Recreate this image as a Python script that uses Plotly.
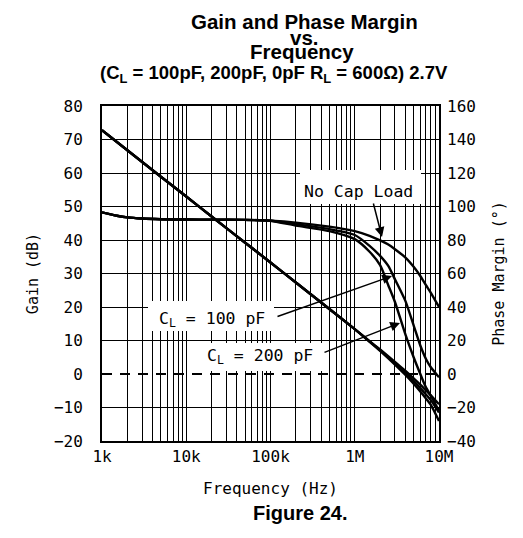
import numpy as np
import plotly.graph_objects as go

# ---------------- data ----------------
gain_freq = [1e3, 2e3, 5e3, 1e4, 2e4, 5e4, 1e5, 2e5, 5e5, 1e6, 1.5e6, 2e6, 3e6, 4e6, 5e6, 6e6, 7e6, 8e6, 1e7]
gain_nocap = [72.8, 66.8, 58.9, 53.0, 47.0, 39.2, 33.3, 27.3, 19.4, 13.4, 9.8, 7.3, 3.6, 0.9, -1.3, -3.2, -4.9, -6.4, -9.0]
gain_100pf = [72.8, 66.8, 58.9, 53.0, 47.0, 39.2, 33.3, 27.3, 19.4, 13.4, 9.7, 7.1, 3.2, 0.3, -2.1, -4.2, -6.1, -7.8, -11.5]
gain_200pf = [72.8, 66.8, 58.9, 53.0, 47.0, 39.2, 33.3, 27.3, 19.4, 13.4, 9.6, 6.9, 2.8, -0.3, -2.9, -5.2, -7.3, -9.2, -14.0]

phase_freq = [1e3, 1.5e3, 2e3, 3e3, 5e3, 1e4, 2e4, 5e4, 1e5, 2e5, 5e5, 1e6, 1.5e6, 2e6, 2.5e6, 3e6, 4e6, 5e6, 6e6, 7e6, 8e6, 1e7]
phase_nocap = [96.5, 94.5, 93.5, 92.8, 92.4, 92.2, 92.1, 92.0, 91.5, 90.4, 88.0, 85.3, 82.5, 79.8, 77.3, 74.5, 69.5, 64.0, 58.5, 53.0, 48.5, 40.0]
phase_100pf = [96.5, 94.5, 93.5, 92.8, 92.4, 92.2, 92.1, 92.0, 91.5, 89.5, 86.5, 83.0, 76.5, 70.5, 64.5, 56.5, 43.5, 29.0, 17.0, 9.0, 4.0, -2.0]
phase_200pf = [96.5, 94.5, 93.5, 92.8, 92.4, 92.2, 92.1, 92.0, 91.5, 88.6, 85.3, 80.5, 73.0, 65.0, 53.0, 43.0, 23.5, 10.0, 0.0, -8.0, -13.0, -22.0]

decades = [1e3, 1e4, 1e5, 1e6, 1e7]
decade_labels = ["1k", "10k", "100k", "1M", "10M"]
gain_ticks = [-20, -10, 0, 10, 20, 30, 40, 50, 60, 70, 80]
gain_grid = [-10, 10, 20, 30, 40, 50, 60, 70]   # 0 dB is drawn dashed instead

title_lines = ["Gain and Phase Margin", "vs.", "Frequency",
               "(C<sub>L</sub> = 100pF, 200pF, 0pF R<sub>L</sub> = 600Ω) 2.7V"]

# grid positions 1..9 per decade
grid_vals = []
grid_text = []
for d, lab in zip(decades, decade_labels):
    if d == 1e7:
        grid_vals.append(d); grid_text.append(lab)
        continue
    for m in range(1, 10):
        grid_vals.append(d * m)
        grid_text.append(lab if m == 1 else "")

MONO = "DejaVu Sans Mono"
ARIALB = "Liberation Sans"

fig = go.Figure()
LW = 2.4
for y in (gain_nocap, gain_100pf, gain_200pf):
    fig.add_trace(go.Scatter(x=gain_freq, y=y, mode="lines", line=dict(color="black", width=LW, shape="spline", smoothing=0.6),
                             showlegend=False, hoverinfo="skip"))
for y in (phase_nocap, phase_100pf, phase_200pf):
    fig.add_trace(go.Scatter(x=phase_freq, y=y, yaxis="y2", mode="lines", line=dict(color="black", width=LW, shape="spline", smoothing=0.6),
                             showlegend=False, hoverinfo="skip"))

L, R, T, B = 94, 92, 98, 105
W, H = 523, 538
pw, ph = W - L - R, H - T - B

def px(x):
    return (x - L) / pw

def py(y):
    return (H - B - y) / ph

shapes = []
# white label boxes (hide grid behind labels)
for (x0, y0, x1, y1) in [(292, 162, 413, 196), (140, 293, 266, 323), (193, 335, 317, 363)]:
    shapes.append(dict(type="rect", xref="paper", yref="paper", x0=px(x0), x1=px(x1), y0=py(y1), y1=py(y0),
                       fillcolor="white", line=dict(width=0), layer="above"))
# dashed 0 dB line
shapes.append(dict(type="line", xref="paper", yref="y", x0=0, x1=1, y0=0, y1=0,
                   line=dict(color="black", width=1.8, dash="10px,8px"), layer="above"))

annotations = []
# first title line anchored at its top so that it stays inside the page
annotations.append(dict(text="<b>" + title_lines[0] + "</b>", xref="paper", yref="paper", x=px(296), y=py(0.5),
                        xanchor="center", yanchor="top", showarrow=False,
                        font=dict(family=ARIALB, size=20.5, color="black")))
for t, yy, xx, fs in zip(title_lines[1:], [29.5, 44, 66], [296, 294, 266], [20.5, 20.5, 18.5]):
    annotations.append(dict(text="<b>" + t + "</b>", xref="paper", yref="paper", x=px(xx), y=py(yy),
                            xanchor="center", yanchor="middle", showarrow=False,
                            font=dict(family=ARIALB, size=fs, color="black")))
annotations.append(dict(text="<b>Figure 24.</b>", xref="paper", yref="paper", x=px(292), y=py(505),
                        xanchor="center", yanchor="middle", showarrow=False,
                        font=dict(family=ARIALB, size=20, color="black")))
# label texts
for text, cx, cy in [("No Cap Load", 350, 183), ("C<sub>L</sub> = 100 pF", 204, 311), ("C<sub>L</sub> = 200 pF", 252, 348)]:
    annotations.append(dict(text=text, xref="paper", yref="paper", x=px(cx), y=py(cy), xanchor="center", yanchor="middle",
                            showarrow=False, font=dict(family=MONO, size=16.5, color="black")))
# arrows: (tail pixel) -> (head pixel)
for (x0, y0, x1, y1) in [(365, 194, 374, 229), (268, 309, 384, 268), (315, 345, 392, 315)]:
    annotations.append(dict(text="", xref="paper", yref="paper", x=px(x1), y=py(y1), ax=x0 - x1, ay=y0 - y1,
                            showarrow=True, arrowhead=2, arrowsize=1.3, arrowwidth=1.5, arrowcolor="black"))

fig.update_layout(
    width=W, height=H, margin=dict(l=L, r=R, t=T, b=B),
    paper_bgcolor="white", plot_bgcolor="white",
    shapes=shapes, annotations=annotations,
    font=dict(family=MONO, size=16, color="black"),
    xaxis=dict(type="log", range=[3, 7], tickmode="array", tickvals=grid_vals, ticktext=grid_text,
               showgrid=True, gridcolor="black", gridwidth=1.4, ticks="", showline=True, linecolor="black",
               linewidth=2, mirror=True, zeroline=False, ticklabelstandoff=0,
               title=dict(text="Frequency (Hz)", font=dict(family=MONO, size=16), standoff=18)),
    yaxis=dict(range=[-20, 80], tickmode="array", tickvals=gain_ticks, showgrid=False, ticks="",
               minor=dict(tickmode="array", tickvals=gain_grid, showgrid=True, gridcolor="black", gridwidth=1.4, ticks=""),
               showline=True, linecolor="black", linewidth=2, mirror=True, zeroline=False, ticklabelstandoff=14,
               title=dict(text="Gain (dB)", font=dict(family=MONO, size=15), standoff=12)),
    yaxis2=dict(range=[-40, 160], dtick=20, overlaying="y", side="right", showgrid=False, ticks="",
                showline=False, zeroline=False, ticklabelstandoff=7,
                title=dict(text="Phase Margin (°)", font=dict(family=MONO, size=15), standoff=18)),
)

fig.write_html("out.html")
